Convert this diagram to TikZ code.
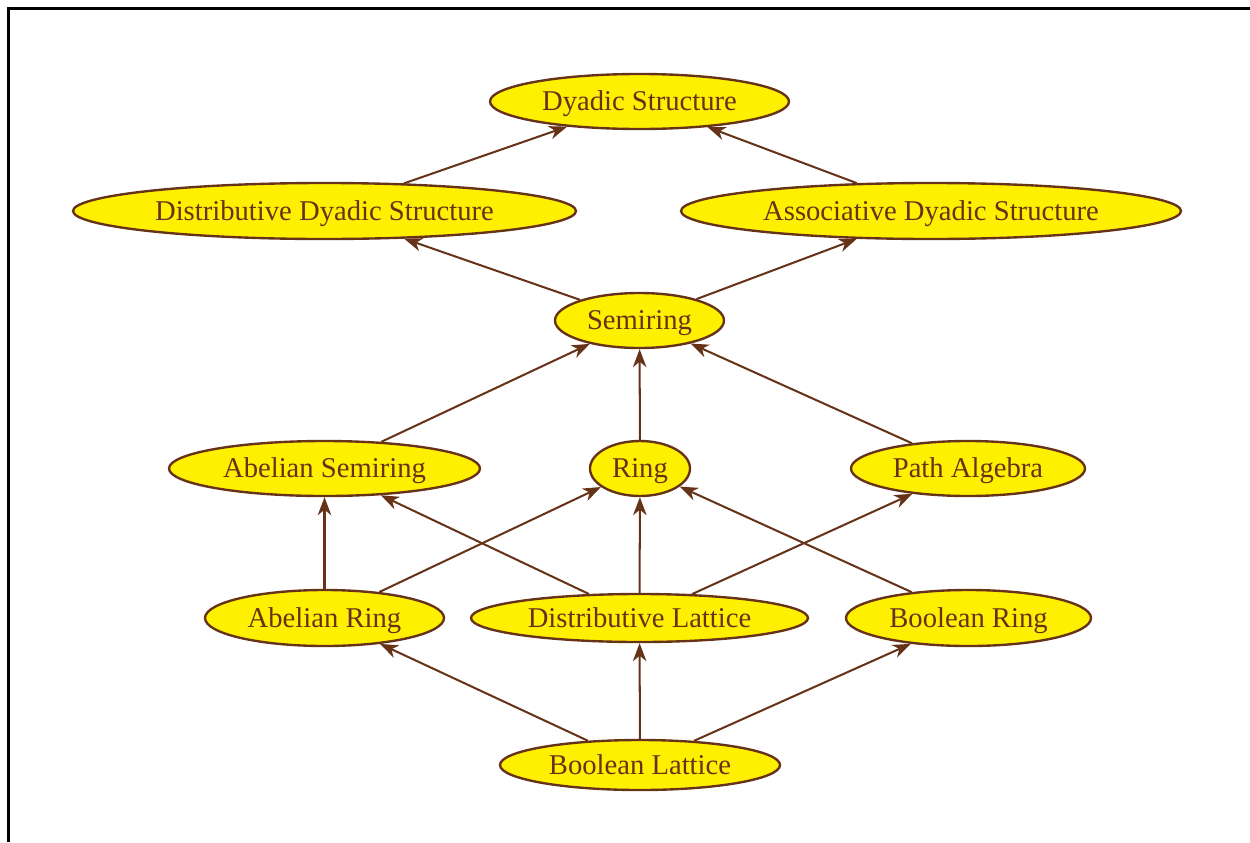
\documentclass[tikz,border=0pt]{standalone}
\usepackage{fontspec}
\setmainfont{Liberation Serif}
\usetikzlibrary{shapes.geometric,arrows.meta}
\definecolor{brn}{RGB}{102,51,25}
\definecolor{ylw}{RGB}{255,240,0}
\newdimen\pxu \pxu=0.02cm
\tikzset{
  gnode/.style={ellipse, draw=brn, fill=ylw, line width=1.35pt, inner sep=0pt, text=brn,
    text height=10.8pt, text depth=0pt,
    font=\fontsize{16.3}{19}\selectfont},
  arr/.style={-{Stealth[length=0.36cm, width=0.27cm, inset=0.11cm]}, draw=brn, line width=1.15pt},
  frame/.style={draw=black, line width=1.9pt}
}
\begin{document}
\begin{tikzpicture}[x=0.02cm, y=-0.02cm]
\useasboundingbox (0,0) rectangle (1250,842);
\coordinate (fa) at (8.3,842);
\coordinate (fb) at (8.3,8.3);
\coordinate (fc) at (1250,8.3);
\draw[frame] (fa) -- (fb) -- (fc);

\node[gnode, minimum width=299\pxu, minimum height=55\pxu] (ds) at (639.5,101.5) {Dyadic Structure};
\node[gnode, minimum width=503\pxu, minimum height=56\pxu] (dds) at (324.5,211) {Distributive Dyadic Structure};
\node[gnode, minimum width=500\pxu, minimum height=56\pxu] (ads) at (931,211) {Associative Dyadic Structure};
\node[gnode, minimum width=169\pxu, minimum height=55\pxu] (sr) at (639.5,320.5) {Semiring};
\node[gnode, minimum width=311\pxu, minimum height=55\pxu] (as) at (324.5,468.5) {Abelian Semiring};
\node[gnode, minimum width=100\pxu, minimum height=55\pxu] (ring) at (640,468.5) {Ring};
\node[gnode, minimum width=234\pxu, minimum height=55\pxu] (pa) at (968,468.5) {Path Algebra};
\node[gnode, minimum width=239\pxu, minimum height=56\pxu] (ar) at (324.5,618) {Abelian Ring};
\node[gnode, minimum width=337\pxu, minimum height=48\pxu] (dl) at (639.5,618) {Distributive Lattice};
\node[gnode, minimum width=245\pxu, minimum height=56\pxu] (br) at (968.5,618) {Boolean Ring};
\node[gnode, minimum width=280\pxu, minimum height=50\pxu] (bl) at (640,765) {Boolean Lattice};

\draw[arr] (dds) -- (ds);
\draw[arr] (ads) -- (ds);
\draw[arr] (sr) -- (dds);
\draw[arr] (sr) -- (ads);
\draw[arr] (as) -- (sr);
\draw[arr] (ring) -- (sr);
\draw[arr] (pa) -- (sr);
\draw[arr] (ar) -- (as);
\draw[arr] (ar) -- (ring);
\draw[arr] (dl) -- (as);
\draw[arr] (dl) -- (ring);
\draw[arr] (dl) -- (pa);
\draw[arr] (br) -- (ring);
\draw[arr] (bl) -- (ar);
\draw[arr] (bl) -- (dl);
\draw[arr] (bl) -- (br);
\end{tikzpicture}
\end{document}
